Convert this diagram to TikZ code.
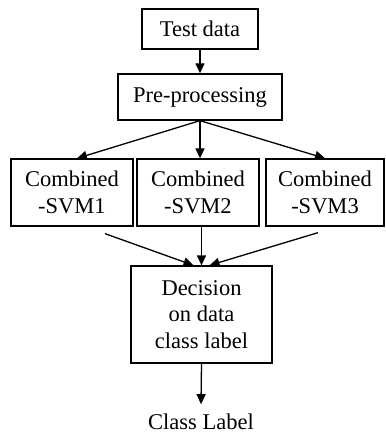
\documentclass[tikz,border=0pt]{standalone}
\usepackage{fontspec}
\setmainfont{Liberation Serif}
\usetikzlibrary{arrows.meta,calc}
\begin{document}
\begin{tikzpicture}[x=1pt,y=-1pt,
  box/.style={draw,line width=1.3pt,inner sep=0pt,align=center,font=\fontsize{22.5}{26.5}\selectfont},
  arr/.style={line width=1.3pt,-{Triangle[length=10pt,width=9pt]}},
  lbl/.style={inner sep=0pt,font=\fontsize{22.5}{26.5}\selectfont}]
\useasboundingbox (0,0) rectangle (385,435);
\fill[white] (0,0) rectangle (385,435);
\node[box,minimum width=116pt,minimum height=40pt] (test) at (200,29) {Test data};
\node[box,minimum width=164pt,minimum height=46pt] (pre) at (200,97) {Pre-processing};
\node[box,minimum width=122pt,minimum height=67pt] (s1) at (72,192.5) {Combined\\-SVM1};
\node[box,minimum width=122pt,minimum height=67pt] (s2) at (198,192.5) {Combined\\-SVM2};
\node[box,minimum width=118pt,minimum height=67pt] (s3) at (325,192.5) {Combined\\-SVM3};
\node[box,minimum width=141pt,minimum height=97pt] (dec) at (201.5,314.5) {Decision\\on data\\class label};
\node[lbl,anchor=base] (cls) at (201,429) {Class Label};
\draw[arr] (test.south) -- (pre.north);
\draw[arr] (pre.south) -- ($(s1.north)+(5,0)$);
\draw[arr] (pre.south) -- (pre.south |- s2.north);
\draw[arr] (pre.south) -- (s3.north);
\draw[arr] ($(s1.south)+(33,7)$) -- ($(dec.north)+(-8,0)$);
\draw[arr] (dec.north |- s2.south) -- (dec.north);
\draw[arr] ($(s3.south)+(-7,6)$) -- ($(dec.north)+(8,0)$);
\draw[arr] (dec.south) -- ($(cls.north)+(0,-9)$);
\end{tikzpicture}
\end{document}
